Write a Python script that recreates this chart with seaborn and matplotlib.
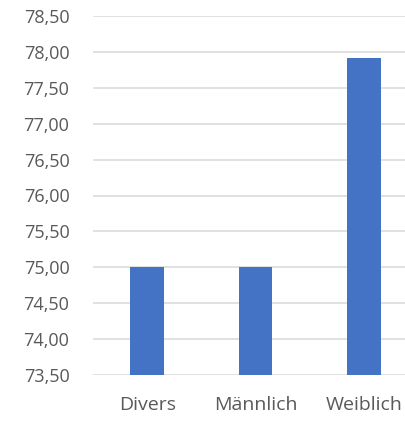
import pandas as pd
import seaborn as sns
import matplotlib.pyplot as plt
from matplotlib.ticker import FuncFormatter, MultipleLocator

categories = ["Divers", "Männlich", "Weiblich"]
values = [75.00, 75.00, 77.91]

df = pd.DataFrame({"Geschlecht": categories, "Wert": values})

sns.set_style("white")
plt.rcParams["font.family"] = ["Open Sans", "DejaVu Sans"]

fig = plt.figure(figsize=(4.05, 4.21), dpi=100)
ax = fig.add_axes([93 / 405, 1 - 375 / 421, (418 - 93) / 405, (375 - 16) / 421])

sns.barplot(data=df, x="Geschlecht", y="Wert", color="#4472C4",
            width=0.31, saturation=1, ax=ax, zorder=3, linewidth=0)

ax.set_ylim(73.5, 78.5)
ax.yaxis.set_major_locator(MultipleLocator(0.5))
ax.yaxis.set_major_formatter(FuncFormatter(lambda v, p: f"{v:.2f}".replace(".", ",")))
ax.grid(axis="y", color="#d9d9d9", linewidth=1.1, zorder=0)
ax.set_axisbelow(True)
for s in ax.spines.values():
    s.set_visible(False)
ax.tick_params(axis="both", length=0, labelcolor="#595959")
ax.tick_params(axis="y", pad=17, labelsize=13)
ax.tick_params(axis="x", pad=15, labelsize=14)
ax.set_xlabel("")
ax.set_ylabel("")

plt.savefig("out.png", dpi=100)
plt.close()
